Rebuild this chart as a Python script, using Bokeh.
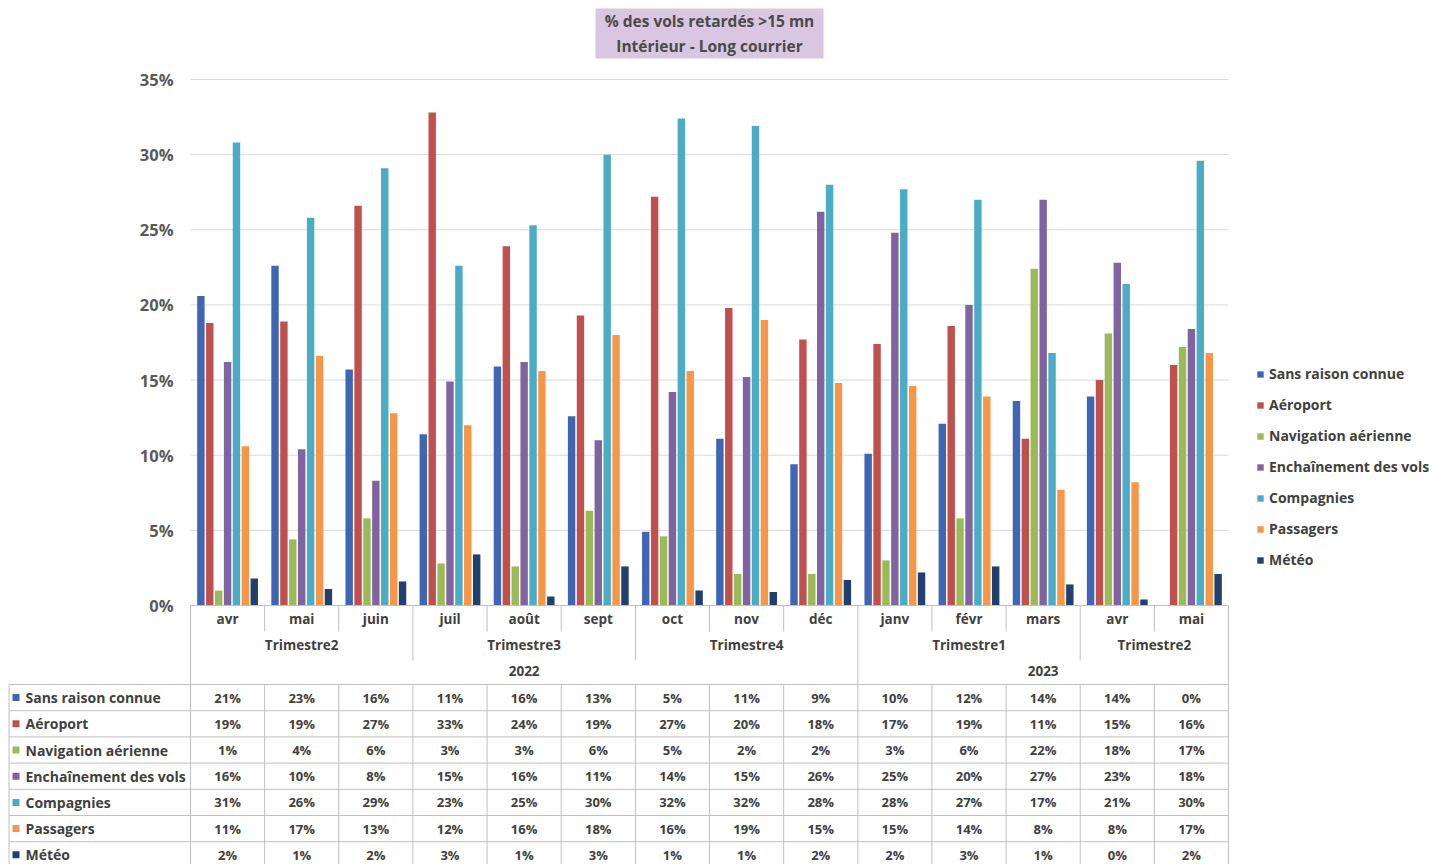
from bokeh.plotting import figure
from bokeh.models import Range1d, ColumnDataSource, Legend, LegendItem
from bokeh.transform import dodge
from bokeh.core.properties import value
from bokeh.embed import file_html
from bokeh.resources import INLINE

# ---------------- data ----------------
months = ["avr", "mai", "juin", "juil", "août", "sept", "oct", "nov", "déc",
          "janv", "févr", "mars", "avr", "mai"]
quarters = (["Trimestre2"] * 3 + ["Trimestre3"] * 3 + ["Trimestre4"] * 3 +
            ["Trimestre1"] * 3 + ["Trimestre2"] * 2)
years = ["2022"] * 9 + ["2023"] * 5

series_names = ["Sans raison connue", "Aéroport", "Navigation aérienne",
                "Enchaînement des vols", "Compagnies", "Passagers", "Météo"]
sans_raison = [20.6, 22.6, 15.7, 11.4, 15.9, 12.6, 4.9, 11.1, 9.4, 10.1, 12.1, 13.6, 13.9, 0.0]
aeroport = [18.8, 18.9, 26.6, 32.8, 23.9, 19.3, 27.2, 19.8, 17.7, 17.4, 18.6, 11.1, 15.0, 16.0]
navigation = [1.0, 4.4, 5.8, 2.8, 2.6, 6.3, 4.6, 2.1, 2.1, 3.0, 5.8, 22.4, 18.1, 17.2]
enchainement = [16.2, 10.4, 8.3, 14.9, 16.2, 11.0, 14.2, 15.2, 26.2, 24.8, 20.0, 27.0, 22.8, 18.4]
compagnies = [30.8, 25.8, 29.1, 22.6, 25.3, 30.0, 32.4, 31.9, 28.0, 27.7, 27.0, 16.8, 21.4, 29.6]
passagers = [10.6, 16.6, 12.8, 12.0, 15.6, 18.0, 15.6, 19.0, 14.8, 14.6, 13.9, 7.7, 8.2, 16.8]
meteo = [1.8, 1.1, 1.6, 3.4, 0.6, 2.6, 1.0, 0.9, 1.7, 2.2, 2.6, 1.4, 0.4, 2.1]
y_ticks = [0, 5, 10, 15, 20, 25, 30, 35]

title_lines = ["% des vols retardés >15 mn", "Intérieur - Long courrier"]

series_values = [sans_raison, aeroport, navigation, enchainement, compagnies, passagers, meteo]
colors = ["#3F66B5", "#C0504D", "#9BBB59", "#8064A2", "#4BACC6", "#F79646", "#21406F"]

FONT = value("Open Sans")
TXT = "#404040"
LINE = "#c0c0c0"

# ---------------- layout constants (screen pixels) ----------------
W, H = 1446, 864
N = len(months)
FRAME_L, FRAME_R = 190, 1228        # plot area in screen px
ZERO_Y, TOP_Y = 605, 79             # 0% and 35% in screen px
S = (FRAME_R - FRAME_L) / N         # px per month slot
PX_PER_PCT = (ZERO_Y - TOP_Y) / 35


def xp(px):
    return (px - FRAME_L) / S


def yp(py):
    return (ZERO_Y - py) / PX_PER_PCT


p = figure(width=W, height=H, output_backend="svg", toolbar_location=None,
           x_range=Range1d(xp(0), xp(W)), y_range=Range1d(yp(H), yp(0)),
           x_axis_type=None, y_axis_type=None,
           min_border_left=0, min_border_right=0, min_border_top=0, min_border_bottom=0)
p.outline_line_color = None
p.grid.visible = False

# ---- gridlines and y tick labels ----
grid_ticks = [t for t in y_ticks if t > 0]
p.segment(x0=[0] * len(grid_ticks), x1=[N] * len(grid_ticks), y0=grid_ticks, y1=grid_ticks,
          line_color="#d9d9d9", line_width=1)
p.text(x=[xp(173)] * len(y_ticks), y=y_ticks, text=[f"{t}%" for t in y_ticks],
       text_align="right", text_baseline="middle", text_font=FONT,
       text_font_size="16.5px", text_font_style="bold", text_color="#595959")

# ---- bars ----
data = dict(x=[i + 0.5 for i in range(N)])
for j, vals in enumerate(series_values):
    data[f"s{j}"] = vals
src = ColumnDataSource(data)

items = []
for j, name in enumerate(series_names):
    r = p.vbar(x=dodge("x", (j - 3) * 0.12, range=p.x_range), top=f"s{j}",
               width=0.1, source=src, fill_color=colors[j], line_color=None)
    items.append(LegendItem(label=name, renderers=[r]))

legend = Legend(items=items, location=(1256, 295), padding=0, margin=0,
                border_line_color=None, background_fill_alpha=0,
                glyph_width=8, glyph_height=8, label_standoff=5, spacing=12,
                label_text_font="Open Sans", label_text_font_size="14px",
                label_text_font_style="bold", label_text_color=TXT)
p.add_layout(legend)

# ---- title box ----
p.rect(x=[N / 2], y=[yp(33)], width=228, height=50, width_units="screen",
       height_units="screen", fill_color="#D9C6E0", line_color=None)
p.text(x=[N / 2, N / 2], y=[yp(20.5), yp(45)], text=title_lines,
       text_align="center", text_baseline="middle", text_font=FONT,
       text_font_size="15.5px", text_font_style="bold", text_color="#4a4a4a")

# ---- category axis + table lines ----
x_left = xp(8.5)
table_top = 684
row_h = 26.2
n_rows = len(series_names)

x0, y0, x1, y1 = [], [], [], []
x0.append(0); x1.append(N); y0.append(0); y1.append(0)           # axis line
for k in range(N + 1):
    if k in (0, N) or years[k - 1] != years[k]:
        bottom = table_top
    elif quarters[k - 1] != quarters[k]:
        bottom = 660
    else:
        bottom = 631
    x0.append(k); x1.append(k); y0.append(0); y1.append(yp(bottom))
    x0.append(k); x1.append(k); y0.append(yp(table_top)); y1.append(yp(H))
x0.append(x_left); x1.append(x_left); y0.append(yp(table_top)); y1.append(yp(H))
for r in range(n_rows + 1):
    yy = yp(table_top + r * row_h)
    x0.append(x_left); x1.append(N); y0.append(yy); y1.append(yy)
p.segment(x0=x0, y0=y0, x1=x1, y1=y1, line_color=LINE, line_width=1)

txt_kw = dict(text_font=FONT, text_color=TXT, text_font_style="bold",
              text_baseline="middle")

# month labels
p.text(x=[i + 0.5 for i in range(N)], y=[yp(618)] * N, text=months,
       text_align="center", text_font_size="13.5px", **txt_kw)


def groups(labels, parent=None):
    out = []
    start = 0
    for i in range(1, len(labels) + 1):
        if (i == len(labels) or labels[i] != labels[start] or
                (parent is not None and parent[i] != parent[start])):
            out.append((labels[start], (start + i) / 2))
            start = i
    return out


qg = groups(quarters, years)
p.text(x=[c for _, c in qg], y=[yp(644)] * len(qg), text=[t for t, _ in qg],
       text_align="center", text_font_size="13.5px", **txt_kw)
yg = groups(years)
p.text(x=[c for _, c in yg], y=[yp(670)] * len(yg), text=[t for t, _ in yg],
       text_align="center", text_font_size="13.5px", **txt_kw)

# table rows
for r, (name, vals) in enumerate(zip(series_names, series_values)):
    yc = yp(table_top + (r + 0.5) * row_h)
    p.rect(x=[xp(15.5)], y=[yc], width=7, height=7, width_units="screen",
           height_units="screen", fill_color=colors[r], line_color=None)
    p.text(x=[xp(25)], y=[yc], text=[name], text_align="left",
           text_font_size="14px", **txt_kw)
    p.text(x=[i + 0.5 for i in range(N)], y=[yc] * N,
           text=[f"{v:.0f}%" for v in vals], text_align="center",
           text_font_size="13px", **txt_kw)

open("out.html", "w").write(file_html(p, INLINE))
